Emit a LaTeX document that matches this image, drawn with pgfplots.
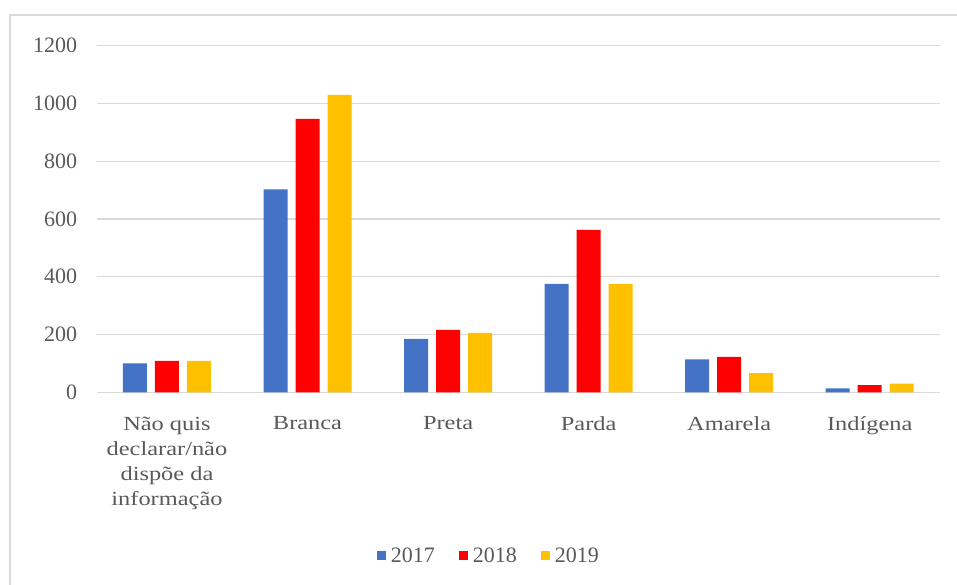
\documentclass[border=0pt]{standalone}
\usepackage{pgfplots}
\pgfplotsset{compat=1.18}
\usepackage{fontspec}
\setmainfont{Liberation Serif}
\newfontfamily\catfont[FakeStretch=1.22]{Liberation Serif}
\definecolor{c17}{HTML}{4472C4}
\definecolor{c18}{HTML}{FF0000}
\definecolor{c19}{HTML}{FFC000}
\definecolor{gridgray}{HTML}{D9D9D9}
\definecolor{framegray}{HTML}{D9D9D9}
\definecolor{labelgray}{HTML}{595959}
\begin{document}
\begin{tikzpicture}
\useasboundingbox (0pt,0pt) rectangle (957pt,-585pt);
\draw[color=framegray, line width=1.5pt] (10pt,-585pt) -- (10pt,-15pt) -- (957pt,-15pt);
\begin{axis}[
  at={(96.7pt,-392.3pt)}, anchor=south west,
  scale only axis, width=843.3pt, height=346.6pt,
  xmin=-0.5, xmax=5.5, ymin=0, ymax=1200,
  ybar=8pt, bar width=24pt,
  axis x line*=bottom, axis y line*=left,
  x axis line style={-, draw=gridgray, line width=1.2pt},
  y axis line style={draw=none},
  major tick length=0pt, tick style={draw=none},
  ymajorgrids, grid style={draw=gridgray, line width=1.2pt},
  ytick={0,200,...,1200},
  /pgf/number format/1000 sep={},
  yticklabel style={font=\fontsize{22}{26}\selectfont, text=labelgray, xshift=-16pt},
  /pgf/number format/assume math mode=true,
  xtick={0,...,5},
  xticklabels={{Não quis\\declarar/não\\dispõe da\\informação},Branca,Preta,Parda,Amarela,Indígena},
  xticklabel style={align=center, font=\catfont\fontsize{20}{25}\selectfont, text=labelgray, yshift=-21pt},
  legend columns=3,
  legend style={at={(0.465,-0.472)}, anchor=center, draw=none, fill=none,
    font=\fontsize{22}{26}\selectfont, text=labelgray,
    /tikz/every odd column/.append style={column sep=3pt},
    /tikz/every even column/.append style={column sep=22pt}},
  legend image code/.code={\fill[#1] (0pt,-4.5pt) rectangle (9pt,4.5pt);},
]
\addplot[fill=c17, draw=none] coordinates {(0,100) (1,703) (2,185) (3,375) (4,114) (5,14)};
\addplot[fill=c18, draw=none] coordinates {(0,109) (1,947) (2,216) (3,562) (4,123) (5,25)};
\addplot[fill=c19, draw=none] coordinates {(0,109) (1,1030) (2,206) (3,375) (4,66) (5,30)};
\legend{2017,2018,2019}
\end{axis}
\end{tikzpicture}
\end{document}
